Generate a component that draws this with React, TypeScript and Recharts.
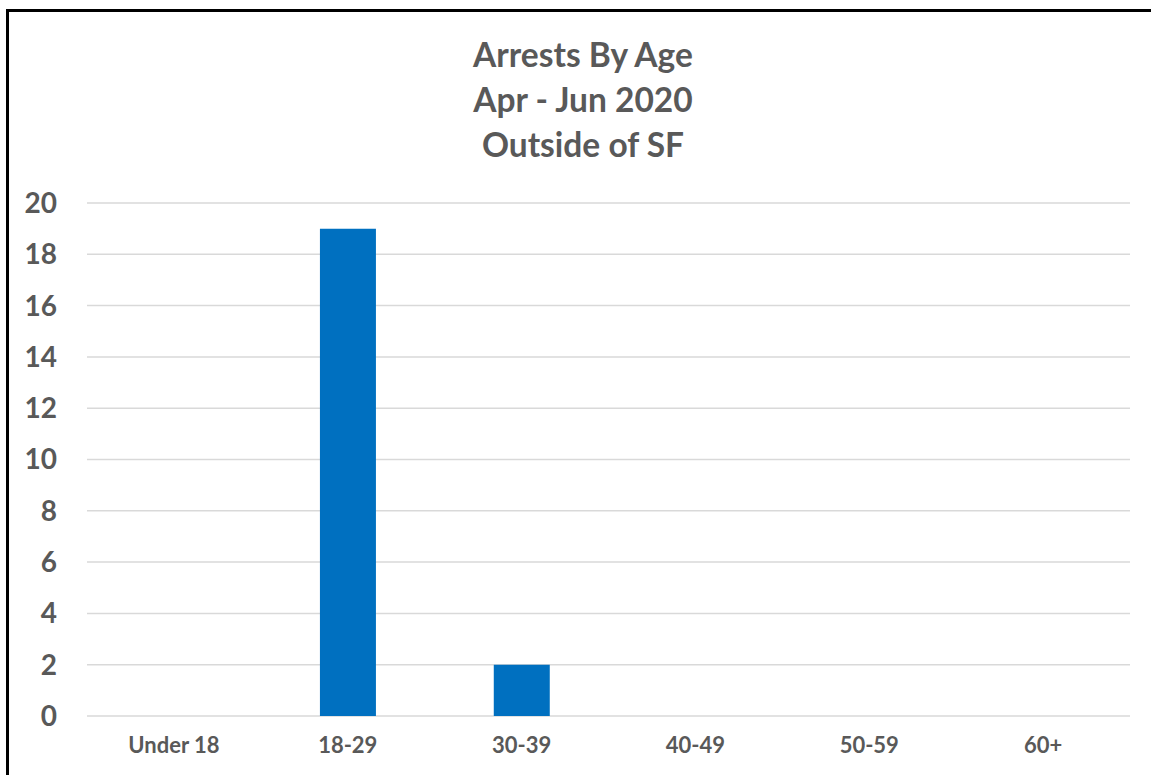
import { BarChart, Bar, XAxis, YAxis, CartesianGrid } from 'recharts'

const ageGroups = ['Under 18', '18-29', '30-39', '40-49', '50-59', '60+']
const arrests = [0, 19, 2, 0, 0, 0]
const yTicks = [0, 2, 4, 6, 8, 10, 12, 14, 16, 18, 20]
const titleLines = ['Arrests By Age', 'Apr - Jun 2020', 'Outside of SF']

const textColor = '#595959'
const font = 'Lato, "Open Sans", sans-serif'

export default function App() {
  const data = ageGroups.map((g, i) => ({ group: g, arrests: arrests[i] }))

  return (
    <div style={{ position: 'absolute', left: 0, top: 0, width: 1151, height: 775, overflow: 'hidden', background: '#fff', fontFamily: font }}>
      <div style={{ position: 'absolute', left: 6, top: 9, width: 1160, height: 780, border: '3px solid #000', boxSizing: 'border-box' }} />
      <div style={{ position: 'absolute', left: 6, top: 32, width: 1154, textAlign: 'center', color: textColor, fontWeight: 700, fontSize: 33.5, lineHeight: '45px' }}>
        {titleLines.map((t) => (
          <div key={t}>{t}</div>
        ))}
      </div>
      <div style={{ position: 'absolute', left: 0, top: 0 }}>
        <BarChart width={1151} height={775} data={data} margin={{ top: 203, right: 21, left: 0, bottom: 0 }} barCategoryGap="34%">
          <CartesianGrid vertical={false} stroke="#d9d9d9" strokeWidth={1.5} />
          <XAxis
            dataKey="group"
            height={59}
            axisLine={false}
            tickLine={false}
            tickSize={0}
            tickMargin={21}
            tick={{ fill: textColor, fontSize: 22, fontWeight: 700, fontFamily: font }}
          />
          <YAxis
            width={87}
            domain={[0, 20]}
            ticks={yTicks}
            interval={0}
            axisLine={false}
            tickLine={false}
            tickSize={0}
            tickMargin={30}
            tick={{ fill: textColor, fontSize: 28, fontWeight: 700, fontFamily: font }}
          />
          <Bar dataKey="arrests" fill="#0070c0" isAnimationActive={false} />
        </BarChart>
      </div>
    </div>
  )
}
